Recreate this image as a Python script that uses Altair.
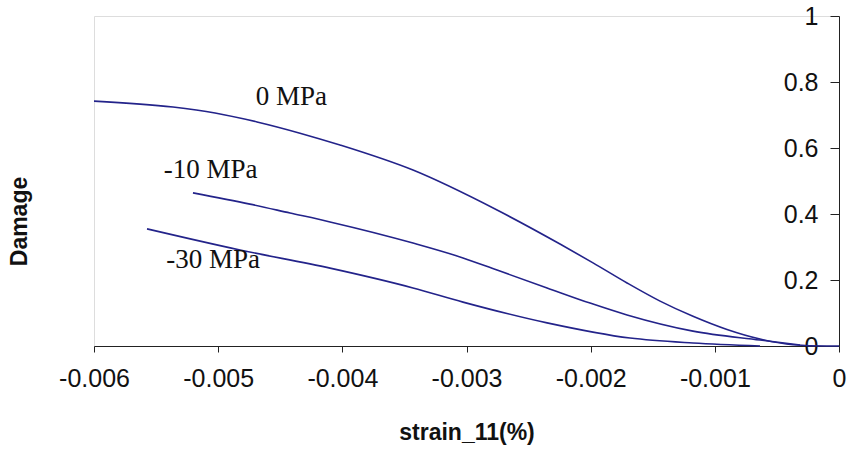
import altair as alt
import pandas as pd

# Damage vs. strain_11 for three confining pressures
strain_0 = [-0.0060, -0.005364, -0.005025, -0.004687, -0.004341, -0.004019, -0.003431,
            -0.002754, -0.002247, -0.001981, -0.001707, -0.001441, -0.001176,
            -0.000902, -0.000636, -0.000370, -0.00010, 0.0]
damage_0 = [0.742, 0.724, 0.706, 0.679, 0.645, 0.609, 0.533,
            0.412, 0.309, 0.252, 0.191, 0.136, 0.090,
            0.050, 0.021, 0.004, 0.0, 0.0]

strain_10 = [-0.005203, -0.004744, -0.004421, -0.004099, -0.003431, -0.003028, -0.002754,
             -0.002351, -0.002005, -0.001707, -0.001176, -0.000636, -0.000314]
damage_10 = [0.464, 0.430, 0.403, 0.376, 0.312, 0.267, 0.230,
             0.176, 0.130, 0.094, 0.045, 0.018, 0.003]

strain_30 = [-0.005573, -0.004824, -0.004099, -0.003431, -0.003028, -0.002351,
             -0.001683, -0.001176, -0.000636]
damage_30 = [0.355, 0.291, 0.236, 0.176, 0.133, 0.070,
             0.024, 0.009, 0.0]

label_text = ["0 MPa", "-10 MPa", "-30 MPa"]
label_x = [-0.00441, -0.00506, -0.00504]
label_y = [0.755, 0.533, 0.261]

rows = []
for name, xs, ys in [("0 MPa", strain_0, damage_0),
                     ("-10 MPa", strain_10, damage_10),
                     ("-30 MPa", strain_30, damage_30)]:
    for xv, yv in zip(xs, ys):
        rows.append({"series": name, "strain": xv, "damage": yv})
curves = pd.DataFrame(rows)
labels = pd.DataFrame({"text": label_text, "strain": label_x, "damage": label_y})

W, H = 745, 330
x_scale = alt.Scale(domain=[-0.006, 0], nice=False, zero=False)
y_scale = alt.Scale(domain=[0, 1], nice=False)

x_axis = alt.Axis(
    title="strain_11(%)",
    values=[-0.006, -0.005, -0.004, -0.003, -0.002, -0.001, 0],
    labelExpr="datum.value == 0 ? '0' : '-' + format(-datum.value, '.3f')",
    labelFlush=False,
    grid=False, tickSize=6, labelPadding=14, titlePadding=30,
    labelFont="Liberation Sans", labelFontSize=25, labelColor="#111",
    titleFont="Liberation Sans", titleFontSize=23, titleFontWeight="bold", titleColor="#111",
    domainColor="#222", tickColor="#222",
)
y_axis = alt.Axis(
    title="Damage", orient="left", offset=-W,
    values=[0, 0.2, 0.4, 0.6, 0.8, 1],
    format="~g",
    grid=False, tickSize=9, labelPadding=12,
    labelFont="Liberation Sans", labelFontSize=25, labelColor="#111",
    labelBaseline="middle",
    titleFont="Liberation Sans", titleFontSize=23, titleFontWeight="bold", titleColor="#111",
    titleX=-W - 63, titleY=H / 2 + 40, titleAngle=-90,
    domainColor="#222", tickColor="#222",
)

lines = alt.Chart(curves).mark_line(
    color="#23238a", strokeWidth=1.6, interpolate="monotone"
).encode(
    x=alt.X("strain:Q", scale=x_scale, axis=x_axis),
    y=alt.Y("damage:Q", scale=y_scale, axis=y_axis),
    detail="series:N",
    order="strain:Q",
)

text = alt.Chart(labels).mark_text(
    font="Liberation Serif", fontSize=27, color="#111", align="center", baseline="middle"
).encode(
    x=alt.X("strain:Q", scale=x_scale),
    y=alt.Y("damage:Q", scale=y_scale),
    text="text:N",
)

chart = (lines + text).properties(
    width=W, height=H,
    autosize=alt.AutoSizeParams(type="none"),
    padding={"left": 94, "top": 16, "right": 11, "bottom": 116},
).configure_view(stroke="#222", strokeWidth=1.2).configure(background="white")

chart.save("out.html", embed_options={"renderer": "svg", "actions": False})
